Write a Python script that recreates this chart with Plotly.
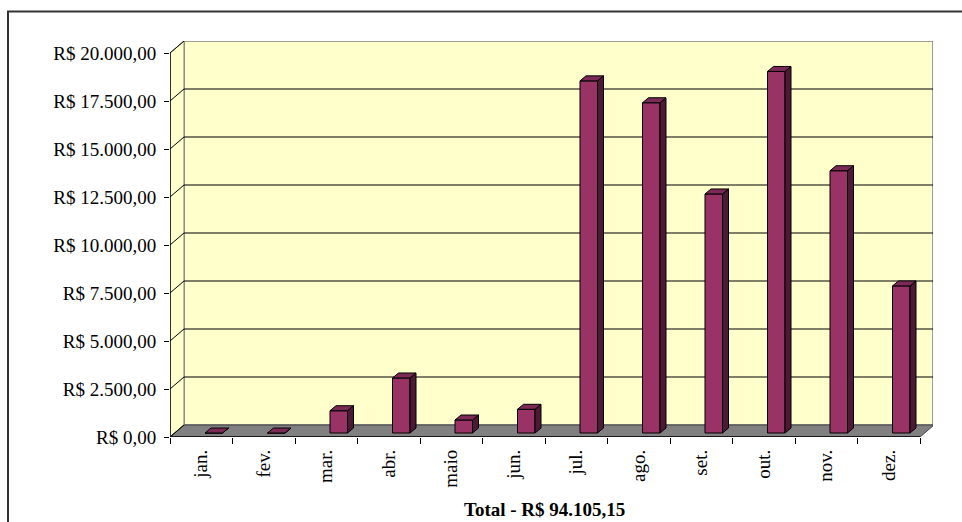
import plotly.graph_objects as go

months = ["jan.", "fev.", "mar.", "abr.", "maio", "jun.", "jul.", "ago.", "set.", "out.", "nov.", "dez."]
values = [0, 0, 1160, 2865, 677, 1234, 18340, 17200, 12450, 18830, 13660, 7660]
tick_values = [0, 2500, 5000, 7500, 10000, 12500, 15000, 17500, 20000]
total_label = "Total - R$ 94.105,15"


def brl(v):
    s = f"{v:,.2f}".replace(",", "X").replace(".", ",").replace("X", ".")
    return "R$ " + s


tick_text = [brl(v) for v in tick_values]

# geometry (pixel-based conversions)
W, H = 962, 522
L, R, T, B = 170, 29, 41, 85
cat_px = 62.5
plot_w = W - L - R
plot_h = H - T - B
XPX = 1.0 / cat_px               # category units per pixel
YPX = 20000.0 / 384.0             # value units per pixel
xmax = plot_w * XPX
ymax = plot_h * YPX
DX, DY = 14 * XPX, 12 * YPX       # wall depth
base = 4 * YPX
bar_off, bar_w = 35 * XPX, 17.5 * XPX
side_dx, side_dy = 6 * XPX, 5 * YPX

FRONT = "#993366"
TOP = "#7a2a55"
SIDE = "#4d1a35"
WALL = "#FFFFCC"
FLOOR = "#808080"
EDGE = "#808080"
FONT = "Times New Roman, Liberation Serif, serif"

fig = go.Figure()

# front faces
fig.add_trace(go.Bar(
    x=list(range(len(months))), y=values, base=base, offset=bar_off, width=bar_w,
    marker=dict(color=FRONT, line=dict(color="black", width=1)), hoverinfo="skip",
))

# top and side faces
tx, ty, sx, sy = [], [], [], []
for i, v in enumerate(values):
    x0 = i + bar_off
    x1 = x0 + bar_w
    top = base + v
    tx += [x0, x1, x1 + side_dx, x0 + side_dx, x0, None]
    ty += [top, top, top + side_dy, top + side_dy, top, None]
    sx += [x1, x1 + side_dx, x1 + side_dx, x1, x1, None]
    sy += [base, base + side_dy, top + side_dy, top, base, None]
fig.add_trace(go.Scatter(x=sx, y=sy, mode="lines", fill="toself", fillcolor=SIDE,
                         line=dict(color="black", width=1), hoverinfo="skip"))
fig.add_trace(go.Scatter(x=tx, y=ty, mode="lines", fill="toself", fillcolor=TOP,
                         line=dict(color="black", width=1), hoverinfo="skip"))

shapes = []
# back wall
shapes.append(dict(type="rect", xref="x", yref="y", x0=DX, x1=xmax, y0=DY, y1=20000 + DY,
                   fillcolor=WALL, line=dict(color=EDGE, width=1.5), layer="below"))
# left wall
shapes.append(dict(type="path", xref="x", yref="y",
                   path=f"M0,0 L{DX},{DY} L{DX},{20000 + DY} L0,20000 Z",
                   fillcolor=WALL, line=dict(color=EDGE, width=1), layer="below"))
# floor
n = len(months)
shapes.append(dict(type="path", xref="x", yref="y",
                   path=f"M0,0 L{n},0 L{n + DX},{DY} L{DX},{DY} Z",
                   fillcolor=FLOOR, line=dict(color="#404040", width=1), layer="below"))
# gridlines on back wall and connectors
for v in tick_values:
    if 0 < v < 20000:
        shapes.append(dict(type="line", xref="x", yref="y", x0=DX, x1=xmax, y0=v + DY, y1=v + DY,
                           line=dict(color="black", width=1.2), layer="below"))
    shapes.append(dict(type="line", xref="x", yref="y", x0=0, x1=DX, y0=v, y1=v + DY,
                       line=dict(color="black", width=1), layer="below"))
# value axis line
shapes.append(dict(type="line", xref="x", yref="y", x0=0, x1=0, y0=0, y1=20000,
                   line=dict(color="black", width=1.5)))
# front floor edge
shapes.append(dict(type="line", xref="x", yref="y", x0=0, x1=n, y0=0, y1=0,
                   line=dict(color="black", width=1.5)))
# outer chart border
shapes.append(dict(type="rect", xref="paper", yref="paper",
                   x0=(8 - L) / plot_w, x1=(W + 10 - L) / plot_w,
                   y0=-(H + 10 - T - plot_h) / plot_h, y1=(plot_h + T - 11.5) / plot_h,
                   line=dict(color="#333333", width=2), fillcolor="rgba(0,0,0,0)"))

fig.update_layout(
    width=W, height=H, autosize=False,
    margin=dict(l=L, r=R, t=T, b=B, pad=0),
    paper_bgcolor="white", plot_bgcolor="white",
    showlegend=False,
    shapes=shapes,
    font=dict(family=FONT, color="black", size=19),
    xaxis=dict(range=[0, xmax], showgrid=False, zeroline=False, showline=False,
               tickmode="array", tickvals=[i + 0.5 for i in range(n)], ticktext=months,
               tickangle=-90, ticks="", ticklabelstandoff=8,
               minor=dict(tickmode="array", tickvals=list(range(n + 1)), ticks="outside",
                          ticklen=6, tickcolor="black", tickwidth=1, showgrid=False),
               tickfont=dict(family=FONT, size=19), fixedrange=True),
    yaxis=dict(range=[0, ymax], showgrid=False, zeroline=False, showline=False,
               tickmode="array", tickvals=tick_values, ticktext=tick_text,
               ticks="outside", ticklen=5, tickcolor="black", tickwidth=1,
               ticklabelstandoff=4,
               tickfont=dict(family=FONT, size=19), fixedrange=True),
    annotations=[dict(text=f"<b>{total_label}</b>", xref="paper", yref="paper",
                      x=(544 - L) / plot_w, y=(T + plot_h - 509) / plot_h,
                      xanchor="center", yanchor="middle", showarrow=False,
                      font=dict(family=FONT, size=19, color="black"))],
)

fig.write_html("out.html", config={"displayModeBar": False},
               post_script="document.body.style.margin='0';document.body.style.overflow='hidden';")
